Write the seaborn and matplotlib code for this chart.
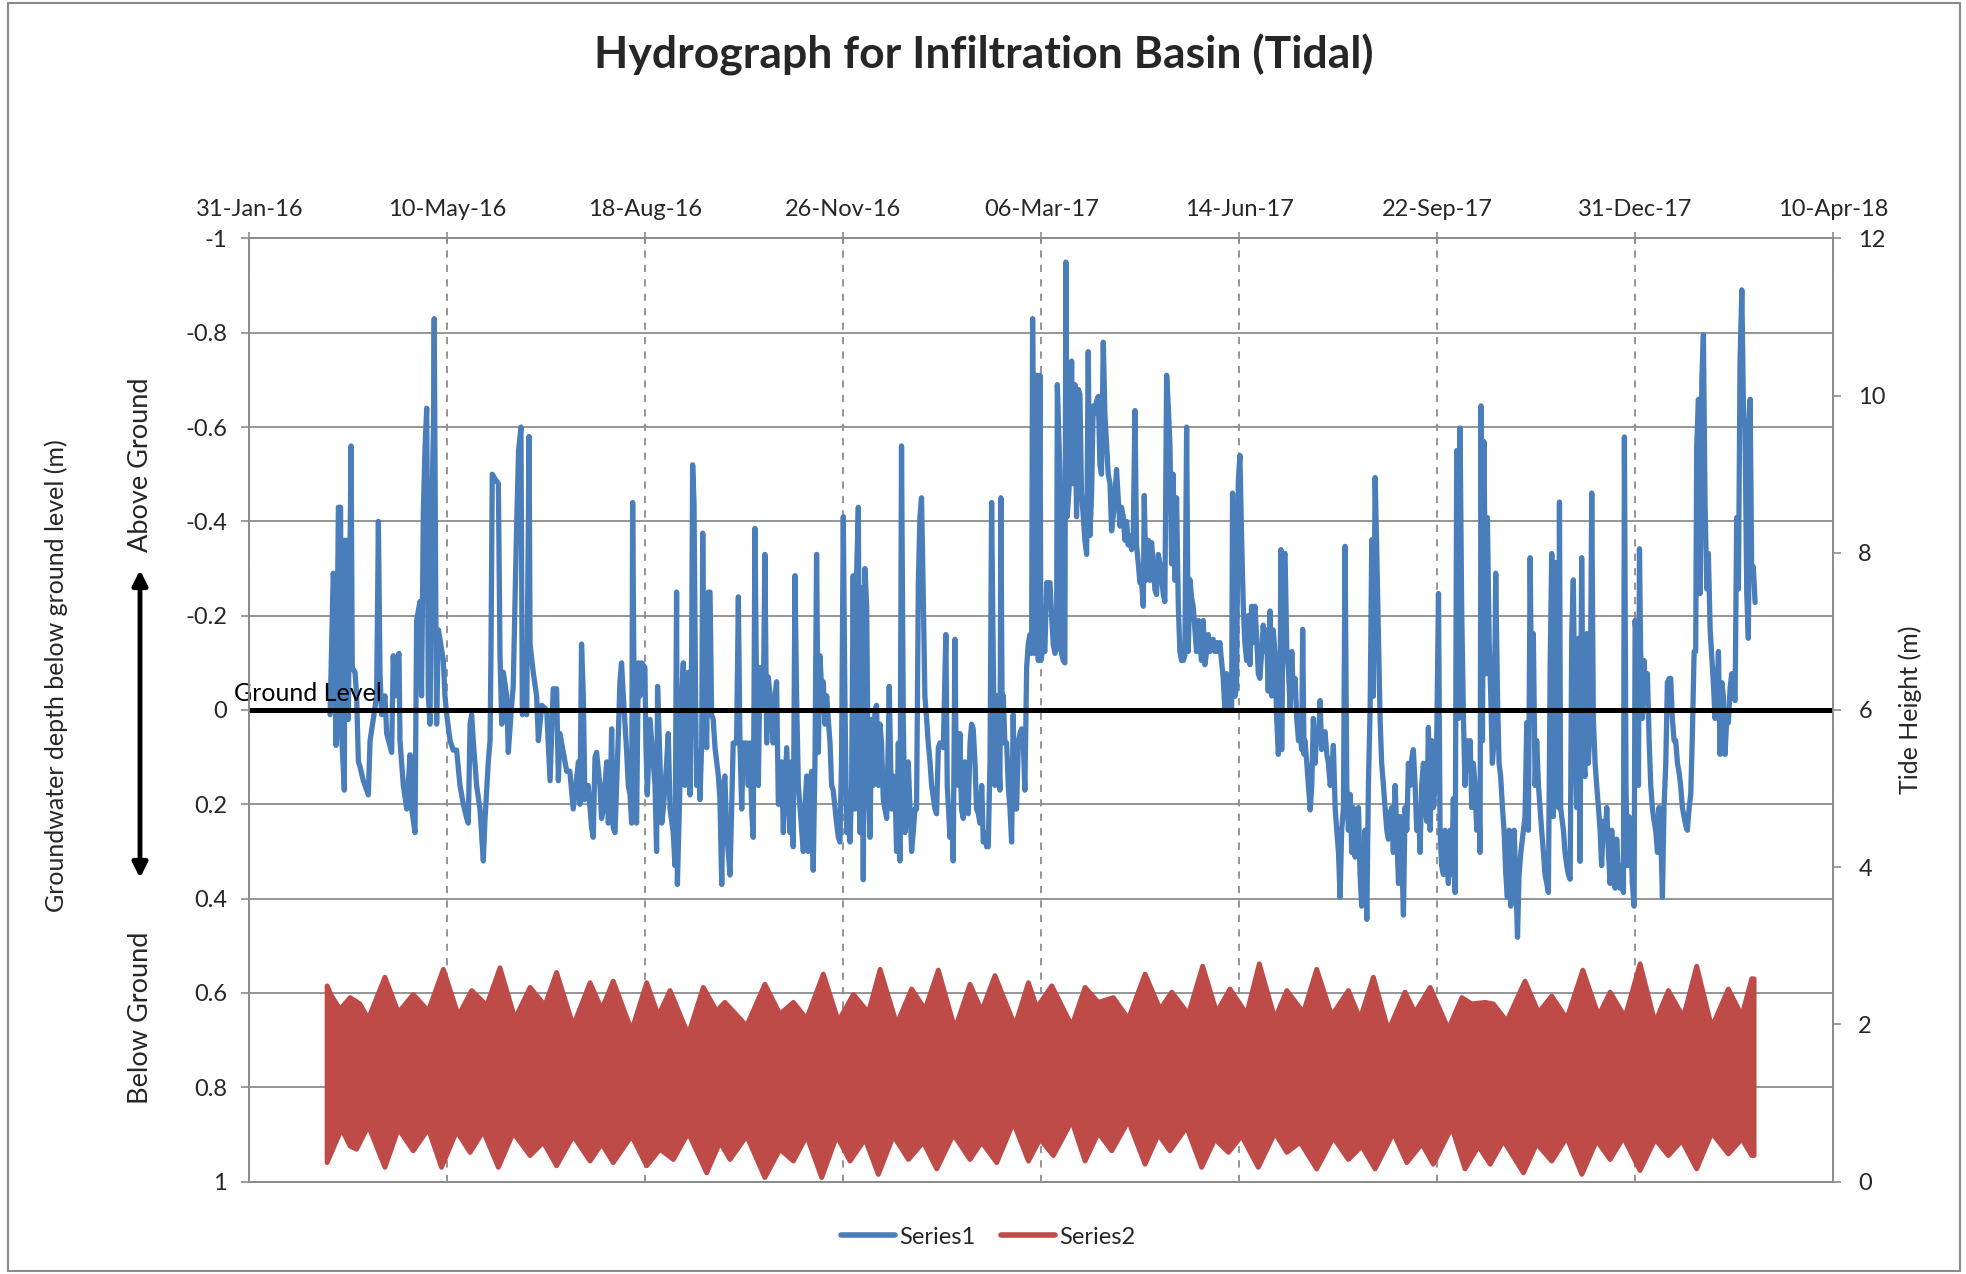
import numpy as np
import pandas as pd
import matplotlib
matplotlib.use("Agg")
import matplotlib.pyplot as plt
import seaborn as sns
from matplotlib.lines import Line2D
from matplotlib.patches import Rectangle

sns.set_theme(style="white")
plt.rcParams["font.family"] = ["Lato", "DejaVu Sans"]

# ---------------- data (x = days after 31-Jan-2016) ----------------
seg1_day = [40.8, 42.4, 43.3, 43.8, 45.0, 46.1, 46.6, 48.0, 48.3, 49.2, 50.0, 51.4, 52.0, 53.4, 54.2, 55.1, 55.9, 57.6, 60.1, 61.0, 62.6, 64.3, 65.2, 66.0, 66.8, 68.5, 69.4, 71.9, 72.7, 73.6, 74.4, 75.6, 76.1, 77.8, 79.5, 81.2, 82.0, 83.7, 84.5, 86.2, 87.0, 87.9, 88.7, 89.6, 90.4, 91.3, 92.1, 93.0, 93.4, 94.3, 94.6, 95.5, 96.3, 98.0, 98.8, 99.7, 101.4, 103.0, 104.7, 106.4, 108.1, 109.8, 110.6, 111.5, 112.3, 113.1, 114.8, 116.5, 118.2, 119.0, 120.7, 121.6, 122.1, 122.7, 124.1, 125.8, 126.6, 127.5, 128.3, 130.0, 130.8, 132.5, 133.3, 135.0, 136.0, 137.2, 137.9, 138.7, 140.1, 141.3, 141.8, 143.4, 145.1, 146.0, 147.7, 150.2, 151.9, 153.5, 155.2, 156.1, 156.9]
seg1_depth = [0.01, -0.29, -0.24, 0.075, -0.43, -0.43, 0.05, 0.17, -0.36, -0.36, 0.02, -0.56, -0.09, -0.08, -0.03, 0.11, 0.12, 0.15, 0.18, 0.065, 0.02, -0.03, -0.40, -0.08, 0.01, -0.03, 0.05, 0.09, -0.115, -0.03, -0.105, -0.12, 0.065, 0.16, 0.21, 0.095, 0.21, 0.26, -0.19, -0.23, -0.03, -0.42, -0.55, -0.64, -0.03, 0.03, -0.41, -0.60, -0.83, -0.14, 0.03, -0.17, -0.15, -0.105, -0.03, 0.01, 0.065, 0.085, 0.085, 0.16, 0.20, 0.23, 0.24, 0.03, 0.01, 0.065, 0.16, 0.21, 0.32, 0.235, 0.11, 0.065, -0.14, -0.50, -0.49, -0.48, -0.12, 0.03, -0.08, -0.03, 0.09, -0.01, -0.05, -0.39, -0.55, -0.60, 0.01, 0.0, 0.01, -0.58, -0.14, -0.08, -0.03, 0.065, -0.01, 0.0, 0.15, -0.045, -0.045, 0.15, 0.05]

seg2_day = [160.3, 161.9, 163.6, 166.2, 167.0, 167.8, 168.7, 169.5, 171.2, 172.9, 173.7, 174.6, 175.4, 177.1, 177.9, 178.8, 180.5, 181.3, 182.2, 183.0, 183.8, 184.7, 185.5, 186.4, 187.2, 188.0, 188.9, 190.6, 191.4, 192.3, 193.1, 193.6, 194.8, 195.6, 196.5, 197.3, 198.2, 199.8, 200.3, 201.0, 202.4, 204.0, 204.9, 205.7, 206.2, 207.4, 208.3, 209.1, 210.8, 211.6, 212.5, 214.1, 215.0, 215.8, 216.2, 217.5, 218.4, 219.2, 220.0, 220.9, 221.7, 222.6, 223.4, 223.9, 224.6, 225.4, 225.9, 226.8, 227.6, 228.5, 229.0, 229.6, 231.0, 231.8, 232.7, 233.5, 234.3, 235.2, 236.9, 237.7, 238.6, 239.4, 240.2, 241.1, 242.8, 243.6, 244.4, 245.3, 246.1, 247.0, 247.8, 248.7, 249.5, 251.2, 252.0, 252.9, 253.7, 254.5, 255.4, 256.2, 257.1, 257.9, 258.8, 259.6, 260.4, 261.3, 262.1, 263.0, 264.6, 265.5, 266.3, 267.2, 268.0, 268.9, 269.7, 271.4, 273.1, 273.9, 274.7, 275.6, 276.4, 277.3]
seg2_depth = [0.13, 0.13, 0.21, 0.11, 0.20, -0.14, -0.03, 0.19, 0.16, 0.25, 0.27, 0.10, 0.09, 0.16, 0.23, 0.21, 0.11, 0.24, 0.21, 0.04, 0.25, 0.26, 0.16, 0.05, -0.06, -0.10, -0.03, 0.09, 0.16, 0.18, 0.24, -0.44, 0.21, 0.24, -0.10, -0.03, -0.10, -0.09, 0.07, 0.18, 0.02, 0.11, 0.16, 0.30, -0.05, 0.11, 0.24, 0.21, 0.11, 0.05, 0.21, 0.26, 0.33, -0.25, 0.37, 0.16, -0.03, -0.10, 0.16, 0.04, -0.08, 0.18, -0.12, -0.52, -0.44, -0.03, 0.16, 0.11, 0.19, 0.07, -0.375, -0.03, 0.08, -0.25, -0.25, 0.01, 0.02, 0.08, 0.14, 0.19, 0.37, 0.16, 0.14, 0.26, 0.35, 0.21, 0.07, 0.07, 0.07, -0.24, 0.07, 0.21, 0.07, 0.07, 0.16, 0.07, 0.21, 0.27, -0.385, -0.03, 0.16, -0.09, -0.03, -0.01, -0.33, 0.07, -0.07, -0.03, 0.07, -0.03, -0.06, 0.20, 0.18, 0.11, 0.26, 0.08, 0.26, 0.11, 0.29, -0.285, -0.03, 0.16]

seg3_day = [279.8, 280.6, 281.5, 282.3, 283.1, 284.0, 284.8, 285.7, 286.5, 287.4, 288.2, 289.0, 289.9, 290.7, 291.6, 292.4, 293.3, 294.1, 294.9, 296.6, 297.5, 298.3, 299.1, 300.0, 300.8, 301.7, 302.5, 303.4, 304.2, 305.0, 305.9, 306.7, 307.6, 308.4, 309.2, 310.1, 310.9, 311.8, 312.6, 313.5, 314.3, 315.1, 316.0, 316.8, 317.7, 318.5, 319.3, 320.2, 321.0, 321.9, 322.7, 323.2, 323.9, 324.4, 325.2, 326.1, 326.9, 327.8, 328.6, 329.4, 330.3, 331.1, 332.0, 332.8, 333.7, 334.5, 335.3, 336.2, 337.0, 337.9, 338.7, 339.5, 340.4, 341.2, 342.1, 342.9, 343.8, 344.6, 346.3, 347.1, 348.0, 348.8, 350.5, 351.8, 352.5, 353.9, 354.7, 355.5, 356.4, 356.9, 358.1, 358.9, 359.7, 360.6, 361.4, 362.3, 363.1, 364.0, 364.8, 365.6, 366.5, 367.3, 368.2, 369.0, 369.9, 370.7, 371.5, 372.4, 373.2, 374.1, 374.9, 375.7, 376.6, 377.4, 378.3, 379.1, 379.6, 380.3, 380.8, 381.6, 382.5, 383.3, 384.2, 385.0, 385.8, 386.7, 387.5, 388.4, 389.2, 390.0, 390.9, 391.7, 392.6, 393.4, 394.3, 395.1, 395.6, 396.8, 397.6, 398.5, 399.3]
seg3_depth = [0.30, 0.21, 0.14, 0.30, 0.16, 0.13, 0.34, 0.11, -0.33, 0.09, -0.115, -0.05, -0.06, 0.03, -0.03, 0.02, 0.07, 0.16, 0.17, 0.24, 0.27, 0.28, 0.11, -0.41, -0.03, 0.26, 0.21, 0.28, 0.16, -0.285, 0.21, -0.285, -0.43, 0.26, -0.26, 0.36, -0.30, -0.22, 0.16, 0.27, 0.02, 0.16, 0.0, -0.01, 0.16, 0.03, 0.07, 0.19, 0.21, 0.23, 0.07, -0.05, 0.11, 0.21, 0.14, 0.16, 0.30, 0.07, 0.32, -0.56, 0.02, 0.26, 0.16, 0.11, 0.21, 0.30, 0.26, 0.21, 0.21, -0.27, -0.41, -0.45, -0.24, -0.03, 0.02, 0.07, 0.11, 0.16, 0.21, 0.22, 0.08, 0.07, 0.08, -0.16, 0.16, 0.27, 0.21, 0.32, -0.15, 0.07, 0.16, 0.05, 0.21, 0.23, 0.11, 0.16, 0.22, 0.07, 0.03, 0.04, 0.11, 0.21, 0.22, 0.24, 0.16, 0.28, 0.26, 0.29, 0.29, 0.11, -0.44, -0.12, 0.16, -0.03, 0.07, 0.17, -0.45, 0.07, -0.03, 0.07, 0.07, 0.16, 0.21, 0.28, 0.01, 0.21, 0.21, 0.07, 0.05, 0.04, 0.07, 0.17, -0.09, -0.14, -0.16, -0.12, -0.83, -0.12, -0.71, -0.105, -0.71]

seg4_day = [399.8, 401.0, 401.8, 402.7, 404.4, 405.2, 406.0, 406.9, 407.7, 408.1, 409.4, 410.2, 411.1, 411.9, 412.4, 413.1, 414.5, 415.3, 416.1, 417.0, 417.8, 418.7, 419.5, 420.3, 421.2, 422.0, 422.9, 423.7, 424.6, 425.4, 426.2, 427.1, 427.9, 428.8, 429.6, 430.4, 431.3, 432.1, 433.0, 433.8, 434.7, 435.5, 436.3, 437.2, 438.0, 438.9, 439.7, 440.5, 441.4, 442.2, 443.1, 443.9, 444.8, 445.6, 446.4, 447.3, 448.1, 449.0, 449.8, 450.6, 451.5, 452.0, 452.8, 454.0, 454.9, 455.7, 456.5, 457.4, 458.2, 459.1, 459.9, 460.7, 461.6, 462.4, 463.3, 464.1, 465.0, 465.8, 466.6, 467.5, 468.3, 469.2, 470.0, 470.8, 471.7, 472.5, 473.4, 474.2, 475.1, 475.9, 476.7, 477.6, 478.4, 479.3, 480.1, 480.9, 481.8, 482.6, 483.5, 484.3, 485.2, 486.0, 486.8, 487.7, 488.5, 489.4, 490.2, 491.0, 491.9, 492.7, 493.6, 494.4, 495.3, 496.1, 496.6, 497.8, 498.6, 499.5, 500.3, 501.2, 502.0, 502.8, 503.7, 504.5, 505.4, 506.2, 507.0, 507.9, 508.7, 509.6, 510.4, 511.3, 512.1, 512.9, 513.8, 514.6, 515.5, 516.3, 517.1, 518.0, 518.8, 519.7, 520.5]
seg4_depth = [-0.105, -0.134, -0.124, -0.27, -0.27, -0.20, -0.14, -0.12, -0.13, -0.69, -0.50, -0.12, -0.105, -0.10, -0.95, -0.41, -0.50, -0.74, -0.48, -0.69, -0.41, -0.68, -0.67, -0.46, -0.41, -0.36, -0.33, -0.76, -0.37, -0.46, -0.645, -0.63, -0.655, -0.665, -0.52, -0.50, -0.78, -0.63, -0.56, -0.50, -0.48, -0.38, -0.41, -0.455, -0.51, -0.445, -0.39, -0.43, -0.41, -0.36, -0.40, -0.35, -0.37, -0.34, -0.36, -0.635, -0.35, -0.31, -0.27, -0.275, -0.22, -0.455, -0.275, -0.36, -0.275, -0.355, -0.31, -0.255, -0.245, -0.33, -0.31, -0.285, -0.245, -0.23, -0.71, -0.645, -0.56, -0.31, -0.50, -0.275, -0.45, -0.22, -0.124, -0.105, -0.105, -0.115, -0.60, -0.124, -0.276, -0.238, -0.22, -0.17, -0.124, -0.19, -0.143, -0.105, -0.19, -0.096, -0.124, -0.16, -0.124, -0.143, -0.15, -0.124, -0.143, -0.124, -0.143, -0.105, -0.067, 0.0, -0.077, -0.01, -0.039, 0.0, -0.46, -0.029, -0.048, -0.485, -0.54, -0.36, -0.22, -0.143, -0.105, -0.20, -0.096, -0.22, -0.143, -0.22, -0.16, -0.077, -0.067, -0.124, -0.18, -0.124, -0.17, -0.04, -0.21, -0.03, -0.17, -0.124, 0.009, 0.094, 0.046]

seg5_day = [521.0, 521.4, 522.3, 523.1, 524.0, 524.8, 525.7, 526.5, 527.3, 528.2, 529.0, 529.9, 530.7, 531.5, 532.0, 532.7, 533.2, 534.1, 534.9, 535.8, 536.6, 537.4, 538.3, 539.1, 540.0, 540.8, 541.6, 542.5, 543.3, 544.2, 545.0, 545.9, 546.7, 547.5, 548.4, 549.2, 550.1, 550.9, 551.7, 552.6, 553.4, 554.3, 555.1, 556.0, 556.8, 557.6, 558.5, 559.3, 560.2, 561.0, 561.8, 562.7, 563.5, 564.4, 565.2, 566.1, 566.9, 567.7, 568.6, 569.4, 570.3, 571.1, 571.9, 572.8, 573.6, 574.5, 575.3, 576.2, 577.0, 577.8, 578.7, 579.5, 580.4, 581.2, 582.0, 582.9, 583.7, 584.6, 585.4, 586.3, 587.1, 587.9, 588.8, 589.6, 590.5, 591.3, 592.1, 593.0, 593.8, 594.7, 595.5, 596.4, 597.2, 598.0, 598.9, 599.7, 600.6, 601.4, 602.2, 603.1, 603.9, 604.8, 605.6, 606.5, 607.3, 608.1, 609.0, 609.8, 610.7, 611.5, 612.3, 613.2, 614.0, 614.9, 615.7, 616.6, 617.4, 618.2, 619.1, 619.9, 620.8, 621.6, 622.1, 622.8, 623.6, 624.5, 625.3, 626.2, 627.0, 627.8, 628.7, 629.5, 630.4, 631.2, 632.0, 632.9, 633.7, 634.6, 635.4, 636.3, 637.1, 637.9, 638.8, 639.6, 640.5, 641.3, 642.2]
seg5_depth = [-0.34, 0.084, -0.323, -0.332, -0.124, -0.086, 0.0, -0.124, -0.029, -0.067, 0.018, 0.065, 0.046, 0.084, -0.171, 0.094, 0.065, 0.113, 0.16, 0.212, 0.16, 0.018, 0.113, 0.046, 0.065, -0.02, 0.084, 0.065, 0.046, 0.094, 0.113, 0.16, 0.141, 0.075, 0.207, 0.255, 0.302, 0.397, 0.255, 0.207, -0.347, 0.16, 0.255, 0.179, 0.302, 0.207, 0.312, 0.255, 0.207, 0.349, 0.416, 0.349, 0.255, 0.444, 0.16, -0.01, -0.361, -0.029, -0.493, -0.342, -0.152, 0.018, 0.113, 0.16, 0.207, 0.255, 0.274, 0.217, 0.207, 0.302, 0.16, 0.255, 0.368, 0.226, 0.302, 0.435, 0.207, 0.255, 0.113, 0.16, 0.103, 0.084, 0.16, 0.255, 0.207, 0.302, 0.16, 0.113, 0.207, 0.236, 0.037, 0.255, 0.065, 0.207, 0.16, 0.065, -0.247, 0.255, 0.33, 0.349, 0.255, 0.302, 0.368, 0.255, 0.349, 0.188, 0.387, -0.55, 0.018, -0.598, -0.219, 0.018, 0.16, 0.065, 0.113, 0.065, 0.207, 0.113, 0.16, 0.255, 0.16, 0.302, -0.645, 0.065, -0.569, -0.077, -0.408, -0.143, -0.029, 0.113, 0.065, -0.29, -0.029, 0.113, 0.141, 0.207, 0.255, 0.349, 0.397, 0.255, 0.416, 0.302, 0.255, 0.349, 0.482, 0.349, 0.302]

seg6_day = [643.5, 644.3, 645.2, 646.0, 646.9, 647.7, 648.5, 649.4, 650.2, 651.1, 651.9, 652.7, 653.6, 654.4, 655.3, 656.1, 657.0, 657.8, 658.6, 659.5, 660.3, 661.2, 661.7, 662.3, 662.8, 663.7, 664.5, 665.4, 666.2, 667.1, 667.9, 668.7, 669.6, 670.4, 671.3, 672.1, 672.9, 673.8, 674.6, 675.5, 676.3, 677.2, 678.0, 678.8, 679.7, 680.5, 681.4, 682.2, 683.0, 683.9, 684.7, 685.6, 686.4, 687.3, 688.1, 688.9, 689.8, 690.6, 691.5, 692.3, 693.1, 694.0, 694.5, 695.3, 696.0, 696.8, 697.7, 698.5, 699.4, 699.9, 700.7, 701.6, 702.1, 702.7, 703.6, 704.4, 705.3, 706.1, 707.0, 707.8, 708.6, 709.5, 710.3, 711.2, 712.0, 712.8, 713.7, 714.5, 715.4, 716.2, 717.1, 717.9, 718.7, 719.6, 720.4, 721.3, 722.1, 722.9, 723.8, 724.6, 725.5, 726.3, 727.2, 728.0, 728.8, 729.7, 730.5, 731.0, 731.9, 732.7, 733.6, 734.4, 735.2, 736.1, 736.9, 737.8, 738.6, 739.4, 740.3, 741.1, 742.0, 742.8, 743.7, 744.5, 745.3, 746.2, 747.0, 747.9, 748.7, 749.5, 750.4, 751.2, 752.1, 752.9, 753.8, 754.6, 755.4, 756.3, 757.1, 758.0, 758.8, 759.6, 760.5]
seg6_depth = [0.255, 0.226, 0.027, 0.255, -0.323, 0.018, -0.162, 0.16, 0.065, 0.16, 0.207, 0.255, 0.302, 0.349, 0.368, 0.387, -0.096, -0.332, 0.226, -0.313, 0.16, 0.207, -0.441, 0.207, 0.226, 0.255, 0.302, 0.33, 0.349, 0.359, -0.162, -0.276, 0.065, 0.207, -0.152, 0.321, -0.323, 0.113, 0.141, -0.162, 0.113, 0.018, -0.46, 0.018, 0.113, 0.16, 0.207, 0.255, 0.33, 0.236, 0.274, 0.207, 0.302, 0.368, 0.255, 0.349, 0.378, 0.274, 0.349, 0.378, 0.33, 0.387, -0.579, 0.16, 0.33, 0.226, 0.255, 0.368, 0.416, -0.19, -0.143, 0.16, -0.342, -0.124, 0.018, -0.105, -0.029, -0.077, 0.065, 0.16, 0.207, 0.236, 0.255, 0.302, 0.207, 0.255, 0.397, 0.207, 0.113, -0.058, -0.067, -0.067, 0.018, 0.065, 0.065, 0.113, 0.132, 0.16, 0.207, 0.226, 0.245, 0.255, 0.207, 0.179, 0.056, -0.124, -0.124, -0.56, -0.659, -0.247, -0.702, -0.796, -0.446, -0.257, -0.332, -0.171, -0.115, -0.058, 0.018, -0.029, -0.124, 0.094, -0.058, -0.029, 0.094, 0.018, 0.027, -0.048, -0.077, -0.029, -0.02, -0.408, -0.257, -0.74, -0.891, -0.645, -0.598, -0.247, -0.152, -0.659, -0.29, -0.304, -0.228]

# tide (Series2): envelope of high and low water, metres
tide_high_day = [39.3, 41.6, 45.8, 50.9, 55.9, 60.1, 68.5, 75.3, 82.8, 90.4, 98.0, 105.6, 112.3, 119.9, 126.6, 134.2, 141.8, 149.3, 155.2, 163.6, 172.1, 178.0, 183.8, 193.1, 200.7, 206.6, 212.5, 221.7, 229.3, 236.0, 240.2, 251.2, 260.4, 268.0, 274.8, 281.5, 289.9, 297.5, 305.1, 312.7, 318.6, 327.0, 334.5, 341.3, 348.0, 356.4, 364.0, 369.9, 376.6, 386.7, 393.5, 397.7, 405.3, 415.4, 422.1, 428.8, 436.4, 444.0, 452.4, 460.0, 465.9, 474.3, 481.5, 488.6, 495.3, 503.7, 510.1, 518.0, 524.0, 532.4, 539.1, 546.7, 555.1, 561.0, 567.7, 575.3, 583.7, 588.8, 596.4, 605.6, 612.4, 617.4, 624.1, 628.3, 635.1, 644.3, 651.1, 657.8, 665.4, 673.5, 681.4, 687.3, 694.8, 702.4, 710.0, 716.7, 724.3, 731.0, 738.6, 747.0, 753.8, 758.8, 760.0]
tide_high = [2.49, 2.36, 2.19, 2.34, 2.26, 2.07, 2.60, 2.15, 2.38, 2.17, 2.70, 2.11, 2.43, 2.24, 2.72, 2.07, 2.47, 2.24, 2.66, 1.98, 2.53, 2.19, 2.55, 1.92, 2.53, 2.11, 2.43, 1.87, 2.47, 2.17, 2.28, 1.98, 2.51, 2.13, 2.28, 2.07, 2.64, 2.04, 2.38, 2.15, 2.70, 2.00, 2.45, 2.19, 2.69, 1.94, 2.51, 2.17, 2.62, 1.98, 2.53, 2.21, 2.49, 1.98, 2.47, 2.28, 2.34, 2.07, 2.64, 2.19, 2.41, 2.13, 2.74, 2.15, 2.45, 2.13, 2.77, 2.07, 2.43, 2.15, 2.70, 2.11, 2.43, 2.07, 2.60, 1.92, 2.41, 2.15, 2.47, 1.94, 2.34, 2.26, 2.28, 2.26, 2.04, 2.55, 2.15, 2.36, 2.07, 2.69, 2.11, 2.41, 2.09, 2.77, 2.02, 2.43, 2.09, 2.74, 1.96, 2.45, 2.11, 2.58, 2.58]
tide_low_day = [39.3, 46.6, 50.9, 54.2, 60.1, 68.5, 75.3, 82.8, 90.4, 97.1, 104.7, 111.5, 118.2, 125.8, 133.3, 141.8, 148.5, 155.2, 163.6, 172.1, 178.0, 183.8, 193.1, 200.7, 207.4, 214.2, 221.7, 231.0, 237.7, 242.8, 251.2, 260.4, 268.0, 274.8, 281.5, 289.1, 296.7, 303.4, 311.0, 317.7, 325.3, 332.9, 340.4, 347.2, 355.6, 364.0, 369.9, 377.5, 385.9, 393.5, 399.4, 406.1, 415.4, 422.1, 428.8, 435.6, 444.0, 452.4, 459.1, 465.0, 473.4, 481.0, 487.7, 494.5, 501.2, 509.6, 518.0, 524.0, 530.7, 539.1, 547.5, 555.1, 561.8, 568.6, 577.8, 584.6, 592.2, 598.0, 607.3, 614.0, 620.8, 626.7, 633.4, 643.5, 650.2, 657.8, 665.4, 673.0, 680.5, 687.3, 694.0, 702.4, 710.0, 716.7, 723.5, 731.0, 738.6, 747.0, 753.8, 758.8, 760.0]
tide_low = [0.24, 0.67, 0.45, 0.41, 0.71, 0.18, 0.67, 0.39, 0.67, 0.18, 0.64, 0.37, 0.64, 0.18, 0.62, 0.33, 0.50, 0.20, 0.58, 0.26, 0.48, 0.24, 0.58, 0.20, 0.41, 0.28, 0.62, 0.11, 0.50, 0.28, 0.58, 0.05, 0.41, 0.26, 0.58, 0.05, 0.58, 0.26, 0.54, 0.09, 0.58, 0.28, 0.50, 0.16, 0.60, 0.28, 0.50, 0.24, 0.75, 0.26, 0.54, 0.33, 0.77, 0.26, 0.62, 0.39, 0.77, 0.22, 0.60, 0.39, 0.69, 0.18, 0.54, 0.37, 0.58, 0.18, 0.62, 0.37, 0.50, 0.16, 0.56, 0.28, 0.45, 0.16, 0.62, 0.24, 0.48, 0.22, 0.69, 0.16, 0.45, 0.22, 0.52, 0.11, 0.48, 0.26, 0.56, 0.09, 0.52, 0.28, 0.56, 0.14, 0.54, 0.33, 0.52, 0.16, 0.62, 0.35, 0.54, 0.33, 0.33]

x_tick_days = [0, 100, 200, 300, 400, 500, 600, 700, 800]
x_tick_labels = ["31-Jan-16", "10-May-16", "18-Aug-16", "26-Nov-16", "06-Mar-17",
                 "14-Jun-17", "22-Sep-17", "31-Dec-17", "10-Apr-18"]
left_ticks = [-1, -0.8, -0.6, -0.4, -0.2, 0, 0.2, 0.4, 0.6, 0.8, 1]
left_tick_labels = ["-1", "-0.8", "-0.6", "-0.4", "-0.2", "0", "0.2", "0.4", "0.6", "0.8", "1"]
right_ticks = [0, 2, 4, 6, 8, 10, 12]
right_tick_labels = ["0", "2", "4", "6", "8", "10", "12"]

BLUE = "#4A7EBB"
RED = "#BE4B48"
GRID = "#8C8C8C"
W, H = 1966, 1274

# ---------------- build frames ----------------
def seg(d, v):
    n = min(len(d), len(v))
    return list(d[:n]), list(v[:n])

days, depths = [], []
for d, v in [(seg1_day, seg1_depth), (seg2_day, seg2_depth), (seg3_day, seg3_depth),
             (seg4_day, seg4_depth), (seg5_day, seg5_depth), (seg6_day, seg6_depth)]:
    dd, vv = seg(d, v)
    days += dd
    depths += vv
gw = pd.DataFrame({"day": days, "depth": depths})

hd, hv = seg(tide_high_day, tide_high)
ld, lv = seg(tide_low_day, tide_low)

# ---------------- figure ----------------
fig = plt.figure(figsize=(W / 100, H / 100), dpi=100)
fig.patch.set_facecolor("white")
ax = fig.add_axes([249.3 / W, 1 - 1181.5 / H, 1584 / W, 943 / H])

sns.lineplot(data=gw, x="day", y="depth", ax=ax, color=BLUE, linewidth=3.8,
             estimator=None, sort=False, legend=False,
             solid_joinstyle="round", solid_capstyle="round", zorder=3)
ax.axhline(0, color="black", lw=3.6, zorder=4)

ax.set_xlim(0, 800)
ax.set_ylim(1, -1)
ax.set_xlabel("")
ax.set_ylabel("")
ax.set_xticks(x_tick_days)
ax.set_xticklabels(x_tick_labels)
ax.set_yticks(left_ticks)
ax.set_yticklabels(left_tick_labels)
ax.xaxis.tick_top()
ax.tick_params(axis="x", top=True, bottom=False, direction="inout", length=9,
               width=1.2, color=GRID, labelsize=17, pad=9)
ax.tick_params(axis="y", left=True, direction="out", length=6, width=1.2,
               color=GRID, labelsize=17, pad=10)
ax.yaxis.grid(True, color=GRID, lw=1.3)
ax.xaxis.grid(True, color=GRID, lw=1.3, ls=(0, (4, 4)))
ax.set_axisbelow(True)
for s in ax.spines.values():
    s.set_color(GRID)
    s.set_linewidth(1.3)

ax.text(-0.0097, -0.01, "Ground Level", transform=ax.get_yaxis_transform(),
        ha="left", va="bottom", fontsize=18, color="black", clip_on=False, zorder=5)

ax2 = ax.twinx()
ax2.fill(hd + ld[::-1], hv + lv[::-1], color=RED, ec=RED, lw=3.5, joinstyle="round")
ax2.set_ylim(0, 12)
ax2.set_yticks(right_ticks)
ax2.set_yticklabels(right_tick_labels)
ax2.tick_params(axis="y", right=True, direction="out", length=6, width=1.2,
                color=GRID, labelsize=17, pad=12)
ax2.grid(False)
for s in ax2.spines.values():
    s.set_color(GRID)
    s.set_linewidth(1.3)

# ---------------- texts ----------------
fig.text(984 / W, 1 - 55 / H, "Hydrograph for Infiltration Basin (Tidal)",
         ha="center", va="center", fontsize=32, fontweight="bold")
fig.text(56 / W, 1 - 676 / H, "Groundwater depth below ground level (m)",
         rotation=90, ha="center", va="center", fontsize=18)
fig.text(140 / W, 1 - 465 / H, "Above Ground", rotation=90, ha="center",
         va="center", fontsize=19.5)
fig.text(140 / W, 1 - 1018 / H, "Below Ground", rotation=90, ha="center",
         va="center", fontsize=19.5)
fig.text(1910 / W, 1 - 710 / H, "Tide Height (m)", rotation=90, ha="center",
         va="center", fontsize=18)

fig.add_artist(plt.Annotation("", xy=(140 / W, 1 - 570 / H), xytext=(140 / W, 1 - 878 / H),
                              xycoords="figure fraction", textcoords="figure fraction",
                              arrowprops=dict(arrowstyle="<|-|>", color="black", lw=3.5,
                                              mutation_scale=22, shrinkA=0, shrinkB=0)))

handles = [Line2D([], [], color=BLUE, lw=4, solid_capstyle="round"),
           Line2D([], [], color=RED, lw=4, solid_capstyle="round")]
fig.legend(handles, ["Series1", "Series2"], loc="center",
           bbox_to_anchor=(988 / W, 1 - 1237 / H), ncol=2, frameon=False,
           fontsize=17, handlelength=2.3, handletextpad=0.15, columnspacing=1.1)

fig.patches.append(Rectangle((8 / W, 3 / H), (1960 - 8) / W, (1271 - 3) / H,
                             transform=fig.transFigure, fill=False, ec="#8A8A8A", lw=1.5))

fig.savefig("out.png", dpi=100, facecolor="white")
